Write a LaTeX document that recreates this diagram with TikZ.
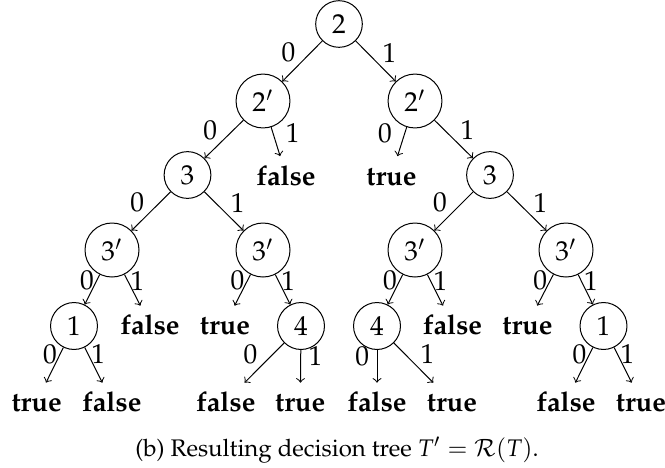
\documentclass[tikz,border=0pt]{standalone}
\usepackage[T1]{fontenc}
\usepackage{mathpazo}
\usepackage{tikz}

\begin{document}
\begin{tikzpicture}[
                x=0.4pt, y=-0.4pt,
                every node/.style={font=\fontsize{10.95}{13}\selectfont},
                dec/.style={draw, circle},
                leaf/.style={font=\fontsize{10.95}{13}\selectfont\bfseries, text height=8pt, text depth=0pt},
                br/.style={->},
                lab/.style={inner sep=1pt} ]

            \useasboundingbox (0,0) rectangle (665,467);

            \node[dec] (r) at (339,24) {$2$};
            \node[dec] (a) at (263,101) {$2'$};
            \node[dec] (b) at (415,101) {$2'$};

            \node[dec] (c) at (187.5,175) {$3$};
            \node[leaf] (fa) at (286,175) {false};
            \node[leaf] (tb) at (391.5,175) {true};
            \node[dec] (d) at (490,175) {$3$};

            \node[dec] (e) at (112,250) {$3'$};
            \node[dec] (f) at (263,250) {$3'$};
            \node[dec] (g) at (415,250) {$3'$};
            \node[dec] (h) at (566,250) {$3'$};

            \node[dec] (i) at (74,326) {$1$};
            \node[leaf] (fe) at (150,324.5) {false};
            \node[leaf] (tf) at (225,324.5) {true};
            \node[dec] (j) at (301,326) {$4$};
            \node[dec] (k) at (377,326) {$4$};
            \node[leaf] (fg) at (452.5,324.5) {false};
            \node[leaf] (th) at (527.5,324.5) {true};
            \node[dec] (l) at (603.5,326) {$1$};

            \node[leaf] (ti) at (36.7,401.5) {true};
            \node[leaf] (fi) at (111.8,401.5) {false};
            \node[leaf] (fj) at (225.8,401.5) {false};
            \node[leaf] (tj) at (300.3,401.5) {true};
            \node[leaf] (fk) at (377,401.5) {false};
            \node[leaf] (tk) at (452,401.5) {true};
            \node[leaf] (fl) at (566,401.5) {false};
            \node[leaf] (tl) at (641,401.5) {true};

            \draw[br] (r) -- node[lab, above left, pos=.6] {0} (a);
            \draw[br] (r) -- node[lab, above right, pos=.6] {1} (b);

            \draw[br] (a) -- node[lab, above left, pos=.6] {0} (c);
            \draw[br] (a) -- node[lab, right=4pt, pos=.2] {1} (fa);
            \draw[br] (b) -- node[lab, left=4pt, pos=.2] {0} (tb);
            \draw[br] (b) -- node[lab, above right, pos=.6] {1} (d);

            \draw[br] (c) -- node[lab, above left, pos=.6] {0} (e);
            \draw[br] (c) -- node[lab, above right, pos=.6] {1} (f);
            \draw[br] (d) -- node[lab, above left, pos=.6] {0} (g);
            \draw[br] (d) -- node[lab, above right, pos=.6] {1} (h);

            \draw[br] (e) -- node[lab, left, pos=.2] {0} (i);
            \draw[br] (e) -- node[lab, right, pos=.2] {1} (fe);
            \draw[br] (f) -- node[lab, left, pos=.2] {0} (tf);
            \draw[br] (f) -- node[lab, right, pos=.2] {1} (j);
            \draw[br] (g) -- node[lab, left, pos=.2] {0} (k);
            \draw[br] (g) -- node[lab, right, pos=.2] {1} (fg);
            \draw[br] (h) -- node[lab, left, pos=.2] {0} (th);
            \draw[br] (h) -- node[lab, right, pos=.2] {1} (l);

            \draw[br] (i) -- node[lab, left, pos=.2] {0} (ti);
            \draw[br] (i) -- node[lab, right, pos=.2] {1} (fi);
            \draw[br] (j) -- node[lab, above left, pos=.6] {0} (fj);
            \draw[br] (j) -- node[lab, right=2pt, pos=.2] {1} (tj);
            \draw[br] (k) -- node[lab, left=2pt, pos=.2] {0} (fk);
            \draw[br] (k) -- node[lab, above right, pos=.6] {1} (tk);
            \draw[br] (l) -- node[lab, left, pos=.2] {0} (fl);
            \draw[br] (l) -- node[lab, right, pos=.2] {1} (tl);

            \node[font=\fontsize{9.6}{12}\selectfont] (cap) at (337,450) {(b) Resulting decision tree $T' = \mathcal{R}(T)$.};
        \end{tikzpicture}
\end{document}
